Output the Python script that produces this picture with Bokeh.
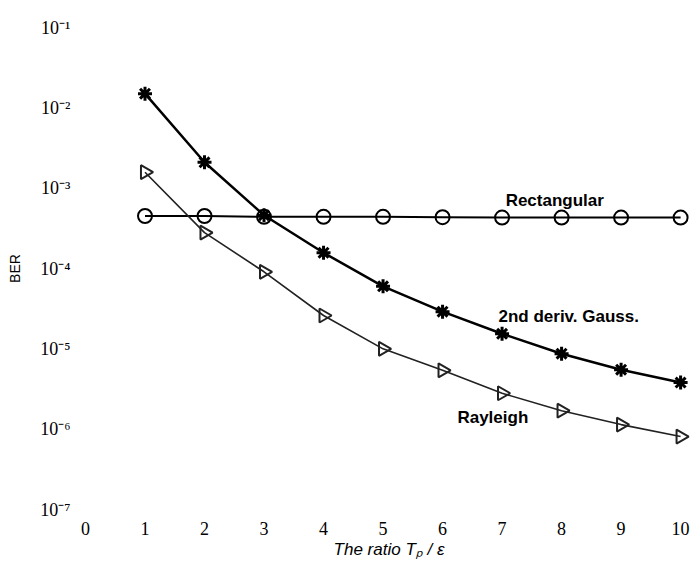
import math

from bokeh.plotting import figure
from bokeh.models import Range1d, FixedTicker, Label
from bokeh.embed import file_html
from bokeh.resources import INLINE

# Ratio T_P / epsilon on the x axis
ratio = [1, 2, 3, 4, 5, 6, 7, 8, 9, 10]

# Bit error rate for each pulse shape
ber_rectangular = [4.5e-4, 4.5e-4, 4.4e-4, 4.4e-4, 4.4e-4, 4.35e-4, 4.3e-4, 4.3e-4, 4.3e-4, 4.3e-4]
ber_gauss = [1.5e-2, 2.1e-3, 4.6e-4, 1.57e-4, 6.0e-5, 2.9e-5, 1.54e-5, 8.7e-6, 5.5e-6, 3.8e-6]
ber_rayleigh = [1.58e-3, 2.8e-4, 9.1e-5, 2.6e-5, 1.0e-5, 5.4e-6, 2.8e-6, 1.7e-6, 1.14e-6, 8.1e-7]

x_ticks = [0, 1, 2, 3, 4, 5, 6, 7, 8, 9, 10]
y_ticks = [1e-7, 1e-6, 1e-5, 1e-4, 1e-3, 1e-2, 1e-1]
y_tick_labels = ["10\u207b\u2077", "10\u207b\u2076", "10\u207b\u2075", "10\u207b\u2074",
                 "10\u207b\u00b3", "10\u207b\u00b2", "10\u207b\u00b9"]

series_names = ["Rectangular", "2nd deriv. Gauss.", "Rayleigh"]

SERIF = "Liberation Serif"
SANS = "Liberation Sans"

p = figure(
    width=692, height=561,
    x_range=Range1d(0, 10.2),
    y_range=Range1d(1e-7, 1e-1),
    y_axis_type="log",
    output_backend="svg",
    toolbar_location=None,
    min_border_left=85, min_border_right=0,
    min_border_top=27, min_border_bottom=52,
)
p.outline_line_color = None
p.grid.visible = False
p.background_fill_color = "white"
p.border_fill_color = "white"

# Axes: no spines or tick marks, only labels
for ax in (p.xaxis[0], p.yaxis[0]):
    ax.axis_line_color = None
    ax.major_tick_line_color = None
    ax.minor_tick_line_color = None
    ax.major_label_text_font = SERIF
    ax.major_label_text_font_size = "18px"
    ax.major_label_text_color = "black"
    ax.axis_label_text_color = "black"

p.xaxis.ticker = FixedTicker(ticks=x_ticks)
p.xaxis.major_label_standoff = 6
p.xaxis.axis_label = "The ratio T\u209a / \u03b5"
p.xaxis.axis_label_text_font = SANS
p.xaxis.axis_label_text_font_style = "italic"
p.xaxis.axis_label_text_font_size = "17px"
p.xaxis.axis_label_standoff = 2

p.yaxis.ticker = FixedTicker(ticks=y_ticks)
p.yaxis.major_label_overrides = dict(zip(y_ticks, y_tick_labels))
p.yaxis.major_label_standoff = 9
p.yaxis.axis_label = "BER"
p.yaxis.axis_label_text_font = SANS
p.yaxis.axis_label_text_font_style = "normal"
p.yaxis.axis_label_text_font_size = "14px"
p.yaxis.axis_label_standoff = 14

# Curves
p.line(ratio, ber_rectangular, line_color="black", line_width=2)
p.line(ratio, ber_gauss, line_color="black", line_width=2.5)
p.line(ratio, ber_rayleigh, line_color="#222222", line_width=1.6)

p.scatter(ratio, ber_rectangular, marker="circle", size=14, fill_color=None,
          line_color="black", line_width=2)
p.scatter(ratio, ber_gauss, marker="asterisk", size=14, line_color="black",
          line_width=3)
p.scatter(ratio, ber_rayleigh, marker="triangle", size=14, angle=-math.pi / 2,
          fill_color=None, line_color="#222222", line_width=2)

# Curve names
name_pos = [(7.06, 7.1e-4), (6.94, 2.5e-5), (6.25, 1.39e-6)]
for name, (lx, ly) in zip(series_names, name_pos):
    p.add_layout(Label(x=lx, y=ly, text=name, text_font=SANS, text_font_style="bold",
                       text_font_size="17px", text_align="left",
                       text_baseline="middle", text_color="black"))

open("out.html", "w").write(file_html(p, INLINE))
